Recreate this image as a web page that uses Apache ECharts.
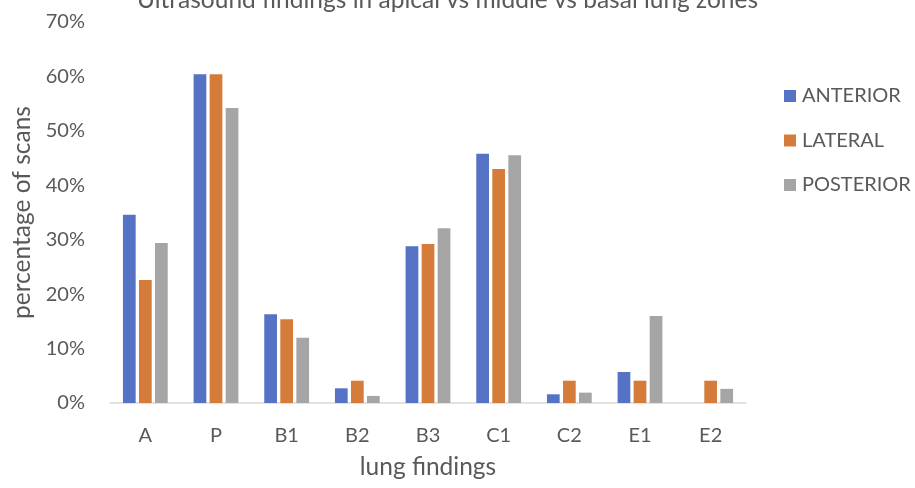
<!DOCTYPE html>
<html>
<head>
<meta charset="utf-8">
<script src="https://cdn.jsdelivr.net/npm/echarts@6/dist/echarts.min.js"></script>
<style>html,body{margin:0;padding:0;background:#fff}#c{width:915px;height:488px}</style>
</head>
<body>
<div id="c"></div>
<script>
var titleText = 'Ultrasound findings in apical vs middle vs basal lung zones';
var categories = ['A', 'P', 'B1', 'B2', 'B3', 'C1', 'C2', 'E1', 'E2'];
var anterior  = [34.6, 60.4, 16.3, 2.7, 28.8, 45.8, 1.6, 5.7, 0];
var lateral   = [22.6, 60.4, 15.4, 4.1, 29.2, 43.0, 4.1, 4.1, 4.1];
var posterior = [29.4, 54.2, 12.0, 1.3, 32.1, 45.5, 1.9, 16.0, 2.6];
var yTicks = [0, 10, 20, 30, 40, 50, 60, 70];

var txt = '#595959';
var font = 'Lato';
var chart = echarts.init(document.getElementById('c'));
function bar(name, data, color) {
  return { name: name, type: 'bar', data: data, barGap: '26%', barCategoryGap: '36.6%',
    itemStyle: { color: color }, emphasis: { disabled: true } };
}
chart.setOption({
  animation: false,
  textStyle: { fontFamily: font },
  title: { text: titleText, left: 132, top: -17,
    textStyle: { color: txt, fontSize: 24.5, lineHeight: 25, fontWeight: 'normal', fontFamily: font } },
  legend: {
    orient: 'vertical', left: 779, top: 81, padding: 5, itemWidth: 12, itemHeight: 12, itemGap: 24.5,
    icon: 'rect', itemStyle: { borderWidth: 0 },
    textStyle: { color: txt, fontSize: 20, fontFamily: font, lineHeight: 20, padding: [0, 0, 0, 1] },
    data: ['ANTERIOR', 'LATERAL', 'POSTERIOR']
  },
  grid: { left: 110, right: 169, top: 22, bottom: 85, outerBoundsMode: 'none', containLabel: false },
  xAxis: {
    type: 'category', data: categories,
    name: 'lung findings', nameLocation: 'middle', nameGap: 52,
    nameTextStyle: { color: txt, fontSize: 24.5, fontFamily: font },
    axisLine: { lineStyle: { color: '#d9d9d9', width: 1.5 } },
    axisTick: { show: false },
    axisLabel: { color: txt, fontSize: 20, margin: 23, fontFamily: font }
  },
  yAxis: {
    type: 'value', min: yTicks[0], max: yTicks[yTicks.length - 1], interval: 10,
    name: 'percentage of scans', nameLocation: 'middle', nameGap: 73,
    nameTextStyle: { color: txt, fontSize: 24.5, fontFamily: font },
    axisLine: { show: false }, axisTick: { show: false },
    splitLine: { show: false },
    axisLabel: { color: txt, fontSize: 20, margin: 25, fontFamily: font,
      formatter: function (v) { return v + '%'; } }
  },
  series: [
    bar('ANTERIOR', anterior, '#5572C4'),
    bar('LATERAL', lateral, '#D67C3A'),
    bar('POSTERIOR', posterior, '#A5A5A5')
  ]
});
</script>
</body>
</html>
